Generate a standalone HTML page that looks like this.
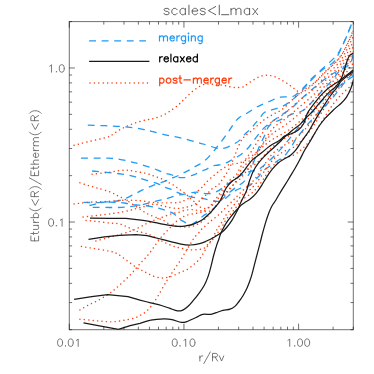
<!DOCTYPE html>
<html><head><meta charset="utf-8"><title>plot</title><style>html,body{margin:0;padding:0;background:#fff;font-family:"Liberation Sans",sans-serif}svg{display:block}</style></head><body><svg width="374" height="374" viewBox="0 0 374 374">
<rect width="374" height="374" fill="#fff"/>
<defs><clipPath id="c"><rect x="69.3" y="21.6" width="284.0" height="308.1"/></clipPath></defs>
<g clip-path="url(#c)" fill="none">
<g stroke="#1f9af5" stroke-width="1.3" stroke-dasharray="6.9 5.65" stroke-linecap="butt">
<path d="M87.8 125.2C90.6 125.3 99.6 125.5 104.5 125.7C109.4 125.9 113.0 126.0 117.3 126.3C121.6 126.6 125.9 126.9 130.2 127.4C134.5 127.9 139.2 128.6 143.0 129.3C146.8 130.0 148.7 130.7 152.8 131.7C156.9 132.7 162.8 134.2 167.8 135.3C172.8 136.4 177.8 137.3 182.8 138.5C187.8 139.7 193.7 141.3 197.8 142.4C201.9 143.5 204.4 144.4 207.5 145.3C210.6 146.2 213.7 147.5 216.2 148.0C218.7 148.5 220.6 148.6 222.6 148.4C224.6 148.2 226.3 147.6 228.3 146.8C230.3 146.0 232.8 144.7 234.7 143.6C236.6 142.5 237.8 142.0 239.5 140.4C241.2 138.8 243.3 135.9 245.1 134.0C246.9 132.1 248.8 130.7 250.5 129.0C252.2 127.3 253.5 125.5 255.0 123.7C256.5 121.9 258.1 120.0 259.7 118.1C261.2 116.2 262.4 113.8 264.3 112.5C266.2 111.2 268.0 111.3 271.2 110.2C274.4 109.1 279.9 107.6 283.4 105.9C286.9 104.2 289.2 102.2 292.0 100.0C294.8 97.8 297.1 96.0 300.0 93.0C302.9 90.0 305.9 85.7 309.4 82.0C312.9 78.3 317.6 73.7 320.9 70.9C324.2 68.2 327.1 67.2 329.4 65.5C331.7 63.8 333.2 62.6 334.7 60.8C336.2 59.0 337.1 56.9 338.3 54.5C339.5 52.1 340.8 49.2 342.1 46.4C343.4 43.6 344.9 40.4 346.1 37.6C347.3 34.8 348.4 32.1 349.4 29.6C350.4 27.2 351.5 24.5 352.1 22.9C352.7 21.3 353.0 20.6 353.2 20.2" stroke-dashoffset="0"/>
<path d="M81.0 158.2C83.3 158.2 90.4 158.2 95.0 158.2C99.6 158.2 104.7 158.0 108.8 158.2C112.9 158.4 115.9 158.7 119.5 159.3C123.1 159.9 126.8 160.8 130.2 161.6C133.6 162.4 136.6 163.2 140.0 164.2C143.4 165.2 147.1 166.2 150.7 167.4C154.3 168.7 158.8 170.7 161.4 171.7C164.0 172.7 164.2 172.8 166.0 173.4C167.8 174.0 170.1 174.4 172.0 175.0C173.9 175.6 175.4 176.7 177.4 177.1C179.4 177.5 181.6 177.9 184.0 177.6C186.4 177.3 190.0 176.0 192.0 175.4C194.0 174.8 194.2 174.8 196.0 174.0C197.8 173.2 201.0 171.5 202.8 170.7C204.6 169.9 205.4 169.9 206.8 169.1C208.2 168.3 209.4 166.8 211.4 166.1C213.4 165.4 216.2 165.5 218.6 165.0C221.0 164.5 223.9 163.7 225.9 162.9C227.9 162.2 228.8 161.5 230.7 160.5C232.5 159.5 234.9 158.2 237.0 157.0C239.1 155.8 241.0 154.7 243.0 153.0C245.0 151.3 247.0 149.3 249.0 147.0C251.0 144.7 252.8 141.8 255.0 139.0C257.2 136.2 259.5 132.7 262.0 130.0C264.5 127.3 267.0 125.3 270.0 123.0C273.0 120.7 276.4 118.5 280.0 116.0C283.6 113.5 288.5 110.7 291.8 108.0C295.1 105.3 297.0 102.8 300.0 100.0C303.0 97.2 306.7 93.8 310.0 91.0C313.3 88.2 316.6 85.7 320.0 83.0C323.4 80.3 327.3 77.2 330.6 75.0C333.9 72.8 337.3 71.4 340.0 70.0C342.7 68.6 345.3 67.5 347.0 66.5C348.7 65.5 349.2 65.4 350.1 64.1C351.0 62.8 351.5 61.1 352.1 58.8C352.7 56.5 353.3 51.5 353.5 50.1" stroke-dashoffset="0"/>
<path d="M92.1 171.0C94.9 171.3 103.9 172.1 108.8 172.6C113.7 173.1 118.2 173.6 121.6 174.1C125.0 174.6 127.0 174.9 129.3 175.4C131.7 175.9 133.0 176.2 135.7 176.9C138.4 177.6 141.6 178.7 145.3 179.8C149.0 181.0 154.8 182.5 158.1 183.8C161.4 185.1 163.2 186.5 165.3 187.4C167.4 188.3 168.8 188.3 170.7 189.1C172.6 189.9 174.9 191.3 176.7 192.1C178.5 192.9 179.5 193.4 181.4 194.1C183.3 194.8 186.1 195.5 188.1 196.1C190.1 196.7 191.2 197.1 193.4 197.4C195.6 197.7 199.2 197.8 201.4 198.1C203.6 198.4 204.8 199.0 206.6 199.4C208.4 199.8 210.2 200.4 212.2 200.7C214.2 201.0 216.5 201.8 218.8 201.3C221.1 200.9 223.6 199.6 226.0 198.0C228.4 196.4 230.5 193.7 233.0 192.0C235.5 190.3 238.2 189.1 241.0 188.0C243.8 186.9 247.9 186.4 249.9 185.4C251.9 184.4 251.6 183.6 253.1 182.1C254.6 180.6 257.2 178.2 258.7 176.5C260.2 174.8 260.1 173.4 262.0 171.7C263.9 169.9 267.3 167.9 270.0 166.0C272.7 164.1 275.5 162.2 278.0 160.5C280.5 158.8 282.8 157.6 284.9 155.5C287.0 153.4 288.6 150.8 290.5 148.0C292.4 145.2 294.5 141.0 296.1 138.7C297.7 136.4 297.9 136.4 299.9 134.0C301.9 131.6 305.0 127.5 308.0 124.0C311.0 120.5 314.7 116.5 318.0 113.0C321.3 109.5 324.9 106.4 328.0 103.0C331.1 99.6 334.0 96.1 336.8 92.6C339.6 89.1 342.2 85.4 345.0 82.0C347.8 78.6 352.1 73.7 353.5 72.0" stroke-dashoffset="0"/>
<path d="M89.4 205.5C90.4 205.3 93.3 204.6 95.4 204.1C97.5 203.6 99.6 202.9 102.0 202.5C104.4 202.1 107.1 201.9 110.0 201.6C112.9 201.3 116.1 201.4 119.6 200.5C123.1 199.6 127.2 197.6 130.9 195.9C134.7 194.2 138.4 191.9 142.1 190.2C145.8 188.4 149.6 186.9 153.3 185.4C157.1 183.9 161.5 182.6 164.6 181.4C167.7 180.2 169.9 178.9 172.0 178.0C174.1 177.1 175.4 176.9 177.4 176.0C179.4 175.1 182.1 173.6 184.0 172.7C185.9 171.8 186.9 171.4 188.7 170.4C190.5 169.4 193.0 167.7 194.8 166.7C196.6 165.7 197.7 165.4 199.4 164.4C201.1 163.4 203.3 161.9 205.0 160.5C206.7 159.1 208.2 157.4 209.8 155.7C211.4 154.0 213.4 151.6 214.6 150.1C215.8 148.6 215.9 148.2 217.0 146.8C218.1 145.5 219.7 143.7 221.0 142.0C222.3 140.3 223.8 138.3 225.1 136.4C226.4 134.5 227.4 133.2 229.1 130.8C230.8 128.4 233.2 124.3 235.0 122.0C236.8 119.7 238.0 118.5 240.0 117.0C242.0 115.5 244.0 115.0 246.9 113.3C249.8 111.6 253.5 108.8 257.2 106.8C260.9 104.8 265.4 103.1 269.3 101.5C273.2 99.9 276.7 97.9 280.6 97.1C284.5 96.3 289.3 97.7 292.7 96.5C296.1 95.3 298.9 91.8 301.1 89.9C303.3 88.0 304.2 87.0 305.8 85.3C307.4 83.6 308.7 81.5 310.5 79.7C312.3 77.9 314.9 75.8 316.5 74.3C318.1 72.8 318.4 72.5 320.0 71.0C321.6 69.5 323.9 67.5 326.0 65.6C328.1 63.7 330.7 61.4 332.7 59.4C334.7 57.4 336.5 55.6 338.1 53.4C339.7 51.2 340.8 48.8 342.1 46.1C343.4 43.4 344.9 40.2 346.1 37.4C347.3 34.6 348.4 31.8 349.4 29.4C350.4 26.9 351.5 24.3 352.1 22.7C352.7 21.1 353.0 20.4 353.2 20.0" stroke-dashoffset="0"/>
<path d="M83.4 202.4C85.9 202.4 93.9 202.6 98.1 202.6C102.3 202.6 105.2 202.2 108.8 202.2C112.4 202.2 116.5 202.2 119.6 202.4C122.7 202.6 125.2 203.2 127.6 203.6C130.0 204.0 130.3 204.2 134.1 204.7C137.8 205.1 145.8 205.6 150.1 206.3C154.4 207.0 157.2 208.0 160.0 208.7C162.8 209.4 164.5 209.9 166.7 210.7C168.9 211.5 171.2 211.9 173.4 213.4C175.6 214.9 178.1 218.0 180.0 219.4C181.9 220.8 182.9 221.2 184.7 222.1C186.5 223.0 188.9 224.7 190.7 224.7C192.5 224.7 193.6 223.3 195.4 222.1C197.2 220.9 199.7 218.7 201.4 217.4C203.1 216.1 203.7 215.6 205.5 214.4C207.3 213.2 210.3 211.6 212.2 210.0C214.1 208.4 215.4 206.7 217.0 205.0C218.6 203.3 219.4 201.9 221.6 199.7C223.8 197.5 227.2 194.4 230.0 192.0C232.8 189.6 236.4 187.1 238.7 185.4C240.9 183.8 242.0 183.6 243.5 182.1C245.0 180.6 246.3 178.4 247.5 176.5C248.7 174.6 249.6 173.5 250.7 170.9C251.8 168.3 252.5 165.2 254.0 161.0C255.5 156.8 257.7 150.4 259.5 146.0C261.3 141.6 263.6 137.9 265.0 134.8C266.4 131.7 266.8 129.4 268.1 127.4C269.4 125.4 270.8 124.0 272.8 122.8C274.8 121.5 277.1 121.3 280.2 119.9C283.3 118.5 287.7 115.9 291.5 114.3C295.3 112.7 299.6 112.5 303.0 110.5C306.4 108.5 308.8 105.2 312.0 102.0C315.2 98.8 318.6 94.7 322.0 91.0C325.4 87.3 329.1 83.8 332.4 80.0C335.7 76.2 338.5 71.3 342.0 68.0C345.5 64.7 351.6 61.3 353.5 60.0" stroke-dashoffset="0"/>
<path d="M92.7 207.3C95.6 207.3 104.5 207.5 110.0 207.5C115.5 207.5 120.7 207.6 126.0 207.1C131.3 206.6 137.8 205.5 142.1 204.7C146.4 203.9 148.5 203.1 151.7 202.3C154.9 201.5 158.9 200.5 161.3 199.9C163.7 199.3 164.2 199.3 166.0 198.8C167.8 198.3 169.9 197.4 172.0 196.8C174.1 196.2 176.6 195.4 178.7 195.0C180.8 194.6 182.7 194.5 184.7 194.1C186.7 193.7 188.7 193.1 190.7 192.8C192.7 192.5 194.8 192.0 196.8 192.1C198.8 192.2 200.8 192.9 202.8 193.2C204.8 193.5 206.6 193.9 208.8 193.7C211.0 193.5 213.5 193.1 216.0 192.0C218.5 190.9 221.3 188.8 224.0 187.0C226.7 185.2 229.3 182.8 232.0 181.0C234.7 179.2 237.3 177.5 240.0 176.0C242.7 174.5 245.2 173.0 248.0 172.0C250.8 171.0 254.8 170.9 257.1 170.1C259.4 169.2 259.9 168.6 262.0 166.9C264.1 165.2 267.3 162.5 270.0 160.0C272.7 157.5 275.3 154.8 278.0 152.0C280.7 149.2 283.3 146.2 286.0 143.0C288.7 139.8 291.3 136.3 294.0 133.0C296.7 129.7 299.0 126.5 302.0 123.0C305.0 119.5 308.7 115.7 312.0 112.0C315.3 108.3 318.7 104.3 322.0 101.0C325.3 97.7 328.7 94.8 332.0 92.0C335.3 89.2 338.4 86.7 342.0 84.0C345.6 81.3 351.6 77.3 353.5 76.0" stroke-dashoffset="0"/>
</g>
<g stroke="#ff3d0c" stroke-width="1.45" stroke-dasharray="0.1 4.32" stroke-linecap="round">
<path d="M74.1 145.3C76.3 144.7 81.6 143.3 87.4 141.9C93.2 140.5 104.7 138.0 108.8 136.8C112.9 135.6 110.2 136.1 112.0 134.9C113.8 133.8 116.8 131.4 119.5 129.9C122.2 128.4 125.2 126.9 128.0 125.7C130.8 124.5 133.6 123.5 136.6 122.5C139.6 121.5 143.3 120.5 146.0 119.9C148.7 119.3 149.9 119.6 152.8 118.8C155.7 118.0 160.3 116.5 163.5 115.0C166.7 113.5 169.6 111.3 172.1 109.6C174.6 107.9 176.7 106.2 178.5 104.7C180.3 103.2 181.7 101.6 182.8 100.6C183.9 99.6 183.8 99.7 185.0 98.5C186.2 97.3 188.2 95.2 189.8 93.7C191.4 92.2 193.0 90.9 194.6 89.7C196.2 88.5 197.8 87.4 199.4 86.5C201.0 85.6 202.7 84.8 204.3 84.4C205.9 84.0 207.4 84.0 209.0 84.0C210.6 84.0 212.3 84.2 213.9 84.4C215.5 84.6 217.1 84.8 218.7 84.9C220.3 85.1 221.9 85.0 223.5 85.3C225.1 85.6 226.7 86.2 228.3 86.5C229.9 86.8 231.5 87.1 233.1 87.3C234.7 87.5 236.4 87.6 238.0 87.6C239.6 87.5 241.6 87.3 242.8 87.0C244.0 86.7 243.4 86.7 245.0 85.6C246.6 84.5 250.0 82.1 252.5 80.6C255.0 79.1 257.5 77.4 260.0 76.5C262.5 75.6 265.0 75.2 267.5 75.3C270.0 75.3 272.4 75.9 274.9 76.8C277.4 77.7 279.9 79.2 282.4 80.6C284.9 82.0 287.7 83.8 289.9 85.3C292.1 86.8 293.6 88.3 295.5 89.6C297.4 90.8 298.9 93.0 301.1 92.8C303.3 92.5 306.3 89.8 308.6 88.1C310.9 86.4 312.3 85.1 315.0 82.5C317.7 79.9 321.8 75.7 325.0 72.5C328.2 69.3 331.5 66.1 334.0 63.5C336.5 60.9 338.2 59.3 340.0 57.0C341.8 54.7 343.1 52.2 344.5 49.5C345.9 46.8 347.2 43.8 348.5 41.0C349.8 38.2 351.2 34.9 352.0 33.0C352.8 31.1 353.2 30.1 353.5 29.5"/>
<path d="M92.1 174.2C94.9 173.9 104.2 172.9 108.8 172.3C113.4 171.7 116.3 170.9 119.5 170.6C122.7 170.2 125.2 170.0 128.0 170.2C130.8 170.4 133.6 171.2 136.6 171.7C139.6 172.2 143.2 172.7 146.0 173.4C148.8 174.1 150.8 174.9 153.3 175.8C155.9 176.7 159.3 177.9 161.3 178.7C163.3 179.5 164.0 180.0 165.3 180.7C166.7 181.4 168.1 182.3 169.4 183.0C170.8 183.7 172.2 184.4 173.4 185.1C174.6 185.8 175.6 186.6 176.7 187.4C177.8 188.2 178.8 188.8 180.0 189.7C181.2 190.5 182.8 191.6 184.0 192.5C185.2 193.4 186.4 194.5 187.4 195.4C188.4 196.3 189.0 197.2 190.0 198.1C191.0 199.0 192.5 199.9 193.4 200.8C194.3 201.7 194.3 202.4 195.4 203.4C196.5 204.4 198.4 206.2 200.0 207.0C201.6 207.8 203.3 208.5 205.0 208.5C206.7 208.5 208.3 208.0 210.0 207.0C211.7 206.0 213.3 204.3 215.0 202.5C216.7 200.7 218.3 198.2 220.0 196.0C221.7 193.8 223.3 191.2 225.0 189.0C226.7 186.8 228.2 184.8 230.0 183.0C231.8 181.2 234.2 180.2 236.0 178.0C237.8 175.8 239.3 172.4 241.0 170.0C242.7 167.7 244.3 165.9 246.0 164.1C247.7 162.3 249.3 161.1 251.0 159.3C252.7 157.5 254.3 155.5 256.0 153.4C257.7 151.3 259.3 148.8 261.0 146.6C262.7 144.4 264.3 142.1 266.0 140.1C267.7 138.2 269.3 136.4 271.0 134.9C272.7 133.4 274.3 132.2 276.0 131.0C277.7 129.9 279.3 129.1 281.0 128.0C282.7 126.9 284.3 125.6 286.0 124.4C287.7 123.2 289.3 122.1 291.0 120.7C292.7 119.4 294.3 117.9 296.0 116.5C297.7 115.1 299.3 113.7 301.0 112.3C302.7 110.8 304.3 109.3 306.0 107.8C307.7 106.2 309.3 104.7 311.0 103.0C312.7 101.3 314.3 99.6 316.0 97.6C317.7 95.6 319.3 93.2 321.0 91.0C322.7 88.8 324.3 86.6 326.0 84.6C327.7 82.6 329.3 80.7 331.0 78.9C332.7 77.0 334.3 75.3 336.0 73.4C337.7 71.6 339.3 69.9 341.0 67.6C342.7 65.3 344.3 62.3 346.0 59.5C347.7 56.6 349.8 52.9 351.0 50.7C352.2 48.5 353.1 46.9 353.5 46.1"/>
<path d="M79.9 182.8C81.4 183.3 85.9 184.8 88.7 185.7C91.5 186.5 93.2 186.9 96.7 187.9C100.2 188.9 106.5 190.6 110.0 191.9C113.5 193.2 115.3 194.6 118.0 195.9C120.7 197.2 123.0 198.2 126.0 199.9C128.9 201.6 132.2 204.0 135.7 206.3C139.2 208.6 143.2 211.5 146.9 213.5C150.6 215.5 155.2 217.1 158.1 218.3C161.0 219.5 162.1 219.6 164.1 220.7C166.1 221.8 168.1 223.8 170.0 224.6C171.9 225.4 173.2 225.4 175.3 225.8C177.4 226.2 180.4 226.8 182.8 227.0C185.2 227.2 187.8 227.1 190.0 226.8C192.2 226.5 194.0 225.9 196.0 225.0C198.0 224.1 200.0 223.0 202.0 221.5C204.0 220.0 206.2 217.9 208.0 216.0C209.8 214.1 211.3 212.2 213.0 210.0C214.7 207.8 216.3 205.3 218.0 203.0C219.7 200.7 221.3 198.2 223.0 196.0C224.7 193.8 226.2 192.0 228.0 190.0C229.8 188.0 232.2 186.3 234.0 184.0C235.8 181.7 237.3 178.1 239.0 175.9C240.7 173.7 242.3 172.1 244.0 170.8C245.7 169.6 247.3 169.2 249.0 168.3C250.7 167.3 252.3 166.3 254.0 165.1C255.7 163.8 257.3 162.4 259.0 160.9C260.7 159.3 262.3 157.3 264.0 155.6C265.7 153.8 267.3 152.0 269.0 150.4C270.7 148.7 272.3 147.1 274.0 145.7C275.7 144.3 277.3 143.0 279.0 141.9C280.7 140.7 282.3 139.8 284.0 138.8C285.7 137.8 287.3 136.9 289.0 135.8C290.7 134.8 292.3 133.6 294.0 132.3C295.7 131.0 297.3 129.6 299.0 128.1C300.7 126.5 302.3 124.9 304.0 123.2C305.7 121.6 307.3 119.9 309.0 118.0C310.7 116.1 312.3 114.0 314.0 111.7C315.7 109.5 317.3 106.9 319.0 104.5C320.7 102.0 322.3 99.3 324.0 96.9C325.7 94.6 327.3 92.3 329.0 90.1C330.7 88.0 332.3 86.0 334.0 84.0C335.7 81.9 337.3 80.0 339.0 77.8C340.7 75.7 342.3 73.6 344.0 71.2C345.7 68.9 347.4 66.2 349.0 63.8C350.6 61.4 352.8 58.0 353.5 56.9"/>
<path d="M74.1 203.9C76.3 203.7 81.6 202.9 87.4 202.4C93.2 201.9 102.4 201.6 108.8 201.2C115.2 200.8 120.7 200.3 126.0 200.2C131.3 200.1 136.2 200.3 140.5 200.7C144.8 201.0 148.4 202.0 151.7 202.3C154.9 202.7 157.1 202.7 160.0 202.8C162.9 202.9 166.4 202.9 169.4 202.8C172.4 202.8 175.9 202.7 178.0 202.5C180.1 202.3 180.7 201.8 182.0 201.4C183.3 201.0 184.7 200.5 186.0 199.8C187.3 199.1 188.8 198.2 190.0 197.4C191.2 196.6 192.3 195.9 193.4 195.0C194.5 194.1 195.7 193.2 196.8 192.1C197.9 191.0 199.0 189.7 200.1 188.7C201.2 187.7 202.6 187.1 203.4 186.3C204.2 185.5 203.9 184.9 205.0 183.7C206.1 182.5 208.2 180.4 209.8 178.9C211.4 177.4 213.0 176.2 214.6 174.9C216.2 173.6 217.8 172.1 219.4 170.9C221.0 169.7 222.7 168.8 224.3 167.7C225.9 166.6 227.4 165.2 229.1 164.5C230.8 163.8 233.0 164.0 234.7 163.7C236.4 163.4 237.8 163.4 239.5 162.9C241.2 162.4 243.3 161.4 245.1 160.5C246.9 159.6 248.4 158.4 250.1 157.2C251.8 156.1 253.4 154.8 255.1 153.5C256.8 152.2 258.4 150.7 260.1 149.3C261.8 147.8 263.4 146.2 265.1 144.8C266.8 143.4 268.4 142.2 270.1 141.0C271.8 139.8 273.4 138.8 275.1 137.8C276.8 136.8 278.4 136.1 280.1 135.2C281.8 134.3 283.4 133.2 285.1 132.2C286.8 131.2 288.4 130.3 290.1 129.2C291.8 128.0 293.4 126.7 295.1 125.4C296.8 124.0 298.4 122.6 300.1 121.1C301.8 119.6 303.4 118.0 305.1 116.3C306.8 114.7 308.4 113.0 310.1 111.2C311.8 109.4 313.4 107.5 315.1 105.3C316.8 103.1 318.4 100.5 320.1 98.2C321.8 95.8 323.4 93.3 325.1 91.1C326.8 88.8 328.4 86.7 330.1 84.7C331.8 82.7 333.4 80.9 335.1 79.0C336.8 77.0 338.4 75.1 340.1 72.9C341.8 70.7 343.4 68.2 345.1 65.6C346.8 63.0 348.7 59.8 350.1 57.5C351.5 55.2 352.9 52.7 353.5 51.8"/>
<path d="M83.1 217.0C85.6 216.7 92.8 216.0 98.1 215.3C103.4 214.7 109.9 213.9 115.2 213.1C120.5 212.3 126.3 211.2 130.2 210.3C134.1 209.4 136.2 208.5 138.7 207.8C141.2 207.1 142.9 206.9 145.3 206.3C147.7 205.7 150.6 204.3 153.3 204.2C156.0 204.1 159.3 205.1 161.3 205.5C163.3 205.9 164.0 206.2 165.3 206.5C166.7 206.8 168.0 207.2 169.4 207.5C170.8 207.8 172.6 207.9 174.0 208.1C175.4 208.2 176.6 208.4 178.0 208.4C179.4 208.4 181.2 208.1 182.7 207.9C184.1 207.7 185.2 207.5 186.7 207.1C188.1 206.7 189.9 206.2 191.4 205.7C192.9 205.2 194.2 204.6 195.4 203.9C196.6 203.2 197.7 202.2 198.8 201.4C199.9 200.6 201.0 199.8 202.1 198.8C203.2 197.8 204.4 196.5 205.5 195.4C206.6 194.3 207.6 193.3 208.8 192.1C210.1 190.9 211.5 189.1 213.0 188.0C214.5 186.9 216.5 186.5 217.8 185.4C219.1 184.3 219.9 182.8 221.0 181.3C222.1 179.8 223.2 178.1 224.3 176.5C225.4 174.9 226.3 173.8 227.5 171.7C228.7 169.6 230.3 166.4 231.5 163.7C232.7 161.0 233.6 158.4 234.7 155.7C235.8 153.0 236.7 150.3 237.9 147.6C239.1 144.9 240.7 141.5 241.9 139.6C243.1 137.7 243.7 137.3 245.0 136.0C246.3 134.7 248.3 133.4 250.0 132.0C251.7 130.6 253.3 129.2 255.0 127.7C256.7 126.3 258.3 124.7 260.0 123.2C261.7 121.8 263.3 120.3 265.0 119.1C266.7 117.9 268.3 117.1 270.0 116.1C271.7 115.2 273.3 114.2 275.0 113.3C276.7 112.5 278.3 111.9 280.0 110.8C281.7 109.8 283.3 108.5 285.0 107.0C286.7 105.5 288.3 103.7 290.0 102.0C291.7 100.4 293.3 98.7 295.0 97.2C296.7 95.7 298.3 94.3 300.0 93.0C301.7 91.6 303.3 90.5 305.0 89.2C306.7 88.0 308.3 86.9 310.0 85.7C311.7 84.6 313.3 83.7 315.0 82.3C316.7 80.8 318.3 78.8 320.0 77.0C321.7 75.3 323.3 73.3 325.0 71.7C326.7 70.1 328.3 68.8 330.0 67.4C331.7 65.9 333.3 64.7 335.0 63.0C336.7 61.3 338.3 59.7 340.0 57.4C341.7 55.0 343.3 52.2 345.0 49.1C346.7 45.9 348.6 41.7 350.0 38.7C351.4 35.7 352.9 32.2 353.5 30.9"/>
<path d="M86.0 220.4C87.8 220.6 92.7 221.0 96.7 221.4C100.7 221.8 106.2 222.7 110.0 223.1C113.8 223.5 116.7 223.2 119.6 223.9C122.5 224.6 124.9 225.9 127.6 227.1C130.3 228.3 132.9 229.9 136.0 231.0C139.1 232.1 142.6 232.2 146.0 233.4C149.4 234.6 153.6 236.6 156.6 238.1C159.6 239.6 161.4 240.9 164.1 242.2C166.8 243.5 169.7 244.9 172.5 245.9C175.3 246.9 177.9 247.5 180.9 248.2C183.9 248.8 187.5 249.6 190.3 249.8C193.1 250.0 195.6 249.8 197.8 249.6C200.1 249.4 202.3 249.1 203.8 248.4C205.3 247.7 205.7 246.5 206.6 245.6C207.5 244.7 208.6 243.7 209.4 242.8C210.2 241.9 210.2 241.9 211.3 240.0C212.4 238.1 214.8 233.6 215.9 231.6C217.0 229.6 217.0 229.1 217.8 227.8C218.6 226.6 219.7 225.5 220.6 224.1C221.5 222.7 222.5 221.0 223.4 219.4C224.3 217.8 225.1 216.3 226.2 214.7C227.3 213.1 228.8 211.6 230.0 210.0C231.2 208.4 232.4 207.0 233.7 205.4C234.9 203.8 236.4 202.1 237.5 200.7C238.6 199.3 239.0 198.2 240.3 196.9C241.6 195.6 243.6 193.9 245.3 192.7C247.0 191.4 248.6 190.8 250.3 189.4C252.0 188.0 253.6 186.3 255.3 184.3C257.0 182.3 258.6 180.0 260.3 177.5C262.0 175.1 263.6 172.3 265.3 169.8C267.0 167.3 268.6 164.8 270.3 162.8C272.0 160.7 273.6 159.0 275.3 157.4C277.0 155.9 278.6 154.7 280.3 153.6C282.0 152.5 283.6 151.5 285.3 150.8C287.0 150.0 288.6 149.9 290.3 149.1C292.0 148.3 293.6 147.2 295.3 146.0C297.0 144.8 298.6 143.4 300.3 141.8C302.0 140.2 303.6 138.4 305.3 136.5C307.0 134.6 308.6 132.7 310.3 130.4C312.0 128.1 313.6 125.6 315.3 123.0C317.0 120.3 318.6 117.5 320.3 114.7C322.0 112.0 323.6 109.2 325.3 106.5C327.0 103.9 328.6 101.3 330.3 98.9C332.0 96.6 333.6 94.5 335.3 92.4C337.0 90.3 338.6 88.3 340.3 86.3C342.0 84.2 343.6 82.1 345.3 80.1C347.0 78.1 348.9 75.8 350.3 74.2C351.7 72.6 353.0 71.1 353.5 70.4"/>
<path d="M95.9 241.0C98.1 240.4 104.5 238.7 108.8 237.5C113.1 236.3 117.7 235.2 121.6 234.0C125.5 232.8 129.1 231.8 132.3 230.6C135.5 229.3 138.6 227.6 140.9 226.5C143.2 225.4 144.5 224.5 146.0 223.8C147.5 223.1 148.3 223.1 150.1 222.3C151.8 221.5 154.4 220.0 156.5 219.1C158.6 218.2 160.7 217.8 162.9 217.0C165.2 216.2 168.0 215.0 170.0 214.3C172.0 213.7 173.2 213.4 174.7 213.1C176.1 212.8 177.4 212.7 178.7 212.3C180.0 212.0 181.4 211.4 182.7 211.0C184.0 210.6 185.2 210.2 186.7 210.0C188.1 209.8 189.9 209.6 191.4 209.6C192.9 209.6 194.0 209.8 195.4 210.0C196.8 210.2 198.5 210.4 200.1 210.7C201.7 210.9 203.3 211.4 205.0 211.5C206.7 211.6 208.3 211.8 210.0 211.0C211.7 210.2 213.3 208.7 215.0 207.0C216.7 205.3 218.3 203.0 220.0 201.0C221.7 199.0 223.3 197.0 225.0 195.0C226.7 193.0 228.3 191.0 230.0 189.0C231.7 187.0 233.3 184.7 235.0 183.0C236.7 181.3 238.3 180.7 240.0 179.0C241.7 177.3 243.3 174.9 245.0 172.9C246.7 170.9 248.3 169.3 250.0 166.9C251.7 164.5 253.3 161.6 255.0 158.6C256.7 155.7 258.3 152.3 260.0 149.1C261.7 145.9 263.3 142.5 265.0 139.6C266.7 136.8 268.3 134.2 270.0 132.0C271.7 129.8 273.3 127.9 275.0 126.3C276.7 124.8 278.3 123.9 280.0 122.7C281.7 121.5 283.3 120.4 285.0 119.1C286.7 117.9 288.3 116.5 290.0 115.1C291.7 113.7 293.3 112.2 295.0 110.8C296.7 109.3 298.3 107.9 300.0 106.5C301.7 105.1 303.3 103.7 305.0 102.3C306.7 100.9 308.3 99.5 310.0 98.0C311.7 96.6 313.3 95.2 315.0 93.4C316.7 91.6 318.3 89.3 320.0 87.3C321.7 85.3 323.3 83.1 325.0 81.1C326.7 79.2 328.3 77.6 330.0 75.8C331.7 74.1 333.3 72.6 335.0 70.8C336.7 69.0 338.3 67.2 340.0 65.0C341.7 62.7 343.3 60.0 345.0 57.2C346.7 54.3 348.6 50.6 350.0 47.9C351.4 45.2 352.9 42.2 353.5 41.1"/>
<path d="M81.4 246.4C83.5 246.8 89.2 247.7 93.8 248.5C98.4 249.3 105.0 250.3 108.8 251.1C112.5 251.9 113.8 252.0 116.3 253.2C118.8 254.4 121.1 256.3 123.8 258.2C126.5 260.1 129.7 262.8 132.3 264.6C135.0 266.5 137.4 268.0 139.7 269.3C142.0 270.6 143.8 271.4 146.0 272.5C148.2 273.6 150.4 275.0 152.8 275.9C155.2 276.8 158.0 277.6 160.3 277.8C162.7 278.1 164.7 277.8 166.9 277.4C169.1 277.0 171.1 276.4 173.4 275.5C175.7 274.6 178.6 273.1 180.9 272.1C183.2 271.1 185.5 270.5 187.5 269.3C189.5 268.1 191.4 266.4 193.1 265.0C194.8 263.6 196.4 262.4 197.8 260.9C199.2 259.4 200.4 257.8 201.5 256.2C202.6 254.6 203.1 253.5 204.3 251.6C205.5 249.7 207.0 246.8 208.5 244.7C210.0 242.6 211.7 240.9 213.1 239.0C214.5 237.1 215.7 235.0 216.9 233.4C218.2 231.8 219.5 231.2 220.6 229.7C221.7 228.1 222.5 225.8 223.4 224.1C224.3 222.4 225.1 221.0 226.2 219.4C227.3 217.8 228.6 216.4 230.0 214.7C231.4 213.0 233.3 210.8 234.7 209.1C236.1 207.4 237.2 206.0 238.4 204.4C239.6 202.8 240.7 201.0 242.1 199.7C243.5 198.4 245.4 197.5 247.1 196.3C248.8 195.2 250.4 194.2 252.1 192.8C253.8 191.3 255.4 189.7 257.1 187.8C258.8 185.8 260.4 183.5 262.1 181.1C263.8 178.7 265.4 175.8 267.1 173.4C268.8 171.0 270.4 168.5 272.1 166.7C273.8 164.8 275.4 163.5 277.1 162.2C278.8 161.0 280.4 159.9 282.1 159.0C283.8 158.2 285.4 157.7 287.1 157.1C288.8 156.6 290.4 156.5 292.1 155.8C293.8 155.1 295.4 154.1 297.1 153.0C298.8 151.8 300.4 150.4 302.1 148.9C303.8 147.4 305.4 145.8 307.1 143.8C308.8 141.9 310.4 139.7 312.1 137.3C313.8 134.9 315.4 132.1 317.1 129.4C318.8 126.8 320.4 123.9 322.1 121.2C323.8 118.4 325.4 115.7 327.1 113.1C328.8 110.5 330.4 107.9 332.1 105.6C333.8 103.3 335.4 101.1 337.1 99.2C338.8 97.2 340.4 95.6 342.1 93.9C343.8 92.2 345.4 90.6 347.1 89.1C348.8 87.7 351.0 86.0 352.1 85.1C353.2 84.3 353.3 84.2 353.5 84.0"/>
<path d="M79.9 310.0C81.3 309.2 85.5 306.6 88.5 305.0C91.5 303.4 94.9 302.1 98.1 300.4C101.3 298.7 104.8 296.5 107.7 294.6C110.6 292.7 112.7 291.1 115.2 289.0C117.7 286.9 120.2 284.5 122.7 282.2C125.2 279.9 128.0 277.3 130.2 275.0C132.4 272.7 134.2 270.4 136.0 268.4C137.8 266.4 139.1 264.5 140.7 262.8C142.3 261.1 143.8 259.8 145.4 258.1C147.0 256.4 148.4 254.5 150.0 252.5C151.6 250.5 153.1 248.1 154.7 245.9C156.3 243.7 157.8 241.4 159.4 239.4C161.0 237.4 162.5 235.5 164.1 233.8C165.7 232.1 167.4 230.6 168.8 229.1C170.2 227.6 171.3 226.2 172.5 225.0C173.7 223.8 174.8 222.8 176.2 221.6C177.6 220.4 179.4 219.0 181.0 218.0C182.6 217.0 184.2 216.2 186.0 215.5C187.8 214.8 190.0 214.4 192.0 214.0C194.0 213.6 196.0 213.5 198.0 213.0C200.0 212.5 202.0 212.2 204.0 211.0C206.0 209.8 208.2 207.8 210.0 206.0C211.8 204.2 213.3 202.2 215.0 200.0C216.7 197.8 218.3 195.3 220.0 193.0C221.7 190.7 223.3 188.2 225.0 186.0C226.7 183.8 228.2 181.8 230.0 180.0C231.8 178.2 234.2 177.3 236.0 175.0C237.8 172.7 239.3 168.9 241.0 166.2C242.7 163.5 244.3 161.1 246.0 158.7C247.7 156.4 249.3 154.4 251.0 151.9C252.7 149.5 254.3 146.7 256.0 143.9C257.7 141.2 259.3 138.1 261.0 135.4C262.7 132.8 264.3 130.2 266.0 128.0C267.7 125.9 269.3 124.1 271.0 122.6C272.7 121.1 274.3 120.0 276.0 118.9C277.7 117.8 279.3 117.4 281.0 116.2C282.7 115.1 284.3 113.6 286.0 112.2C287.7 110.8 289.3 109.3 291.0 107.8C292.7 106.3 294.3 104.7 296.0 103.2C297.7 101.8 299.3 100.5 301.0 99.1C302.7 97.8 304.3 96.5 306.0 95.2C307.7 93.9 309.3 92.6 311.0 91.3C312.7 89.9 314.3 88.6 316.0 86.9C317.7 85.2 319.3 83.0 321.0 81.1C322.7 79.3 324.3 77.3 326.0 75.6C327.7 73.8 329.3 72.3 331.0 70.7C332.7 69.1 334.3 67.6 336.0 65.8C337.7 64.0 339.3 62.5 341.0 60.1C342.7 57.6 344.3 54.3 346.0 51.2C347.7 48.0 349.8 43.7 351.0 41.2C352.2 38.7 353.1 36.8 353.5 36.0"/>
<path d="M79.9 319.2C81.9 319.4 88.0 319.9 91.7 320.3C95.5 320.7 98.8 321.1 102.4 321.3C106.0 321.6 109.5 322.0 113.1 321.8C116.7 321.6 120.2 320.9 123.8 320.3C127.3 319.7 131.6 319.0 134.4 318.1C137.2 317.2 139.0 316.0 140.9 314.9C142.8 313.8 144.2 313.3 146.0 311.7C147.8 310.1 150.0 307.6 152.0 305.0C154.0 302.4 156.0 299.3 158.0 296.0C160.0 292.7 162.6 287.8 164.1 285.2C165.6 282.6 165.8 282.3 166.9 280.6C168.0 278.9 169.3 276.9 170.6 275.0C171.8 273.1 173.2 271.2 174.4 269.3C175.7 267.4 176.8 265.6 178.1 263.7C179.3 261.8 180.8 260.0 181.9 258.1C183.1 256.2 184.1 254.1 185.0 252.5C185.9 250.9 186.6 250.1 187.5 248.7C188.4 247.3 189.4 245.6 190.3 244.1C191.2 242.6 192.2 240.8 193.1 239.4C194.0 238.0 194.8 236.9 195.9 235.7C197.0 234.4 198.5 233.2 199.6 231.9C200.7 230.7 201.3 229.3 202.4 228.2C203.5 227.1 204.7 226.6 206.0 225.4C207.3 224.2 209.0 222.5 210.3 221.3C211.7 220.2 212.7 219.6 214.1 218.5C215.5 217.4 217.2 216.1 218.8 214.7C220.4 213.3 221.9 211.6 223.4 210.0C224.9 208.4 226.5 207.0 228.1 205.4C229.7 203.8 231.4 202.1 232.8 200.7C234.2 199.3 235.1 198.4 236.5 196.9C237.9 195.4 239.8 193.3 241.5 191.7C243.2 190.0 244.8 188.6 246.5 187.1C248.2 185.6 249.8 184.4 251.5 182.7C253.2 181.0 254.8 179.0 256.5 176.8C258.2 174.6 259.8 171.9 261.5 169.4C263.2 166.8 264.8 163.9 266.5 161.5C268.2 159.0 269.8 156.7 271.5 154.9C273.2 153.0 274.8 151.6 276.5 150.3C278.2 149.0 279.8 148.0 281.5 147.0C283.2 145.9 284.8 144.9 286.5 144.0C288.2 143.1 289.8 142.5 291.5 141.5C293.2 140.4 294.8 139.1 296.5 137.7C298.2 136.3 299.8 134.7 301.5 133.1C303.2 131.4 304.8 129.6 306.5 127.7C308.2 125.7 309.8 123.7 311.5 121.4C313.2 119.2 314.8 116.7 316.5 114.1C318.2 111.6 319.8 108.8 321.5 106.2C323.2 103.6 324.8 100.9 326.5 98.5C328.2 96.0 329.8 93.6 331.5 91.4C333.2 89.2 334.8 87.2 336.5 85.1C338.2 83.1 339.8 81.3 341.5 79.1C343.2 76.9 344.8 74.5 346.5 72.2C348.2 69.8 350.3 66.9 351.5 65.3C352.7 63.7 353.2 63.0 353.5 62.5"/>
</g>
<g stroke="#1a1a1a" stroke-width="1.25">
<path d="M90.0 218.2C90.0 218.2 110.0 218.3 110.0 218.3C110.0 218.3 126.0 218.3 126.0 218.3C126.0 218.3 138.9 219.9 138.9 219.9C138.9 219.9 147.5 221.1 151.7 221.8C155.9 222.6 159.8 223.7 164.1 224.4C168.3 225.2 173.5 226.1 177.2 226.3C180.8 226.5 183.3 226.2 186.0 225.8C188.7 225.4 190.7 225.2 193.5 224.1C196.3 223.0 200.0 221.3 202.8 219.4C205.6 217.5 208.1 215.0 210.3 212.8C212.5 210.6 214.2 208.4 215.9 206.3C217.6 204.2 218.9 203.1 220.6 200.0C222.3 196.9 224.3 191.1 226.2 188.0C228.1 184.9 229.9 183.2 231.8 181.5C233.7 179.8 235.5 179.3 237.4 177.7C239.3 176.1 241.3 174.1 243.0 172.1C244.7 170.1 246.1 167.6 247.7 165.6C249.3 163.6 250.2 161.9 252.4 159.9C254.6 157.9 257.7 155.9 260.6 153.6C263.5 151.3 266.8 148.3 269.9 146.1C273.0 143.9 276.8 142.2 279.3 140.5C281.8 138.8 283.0 137.0 284.9 135.9C286.8 134.8 288.3 134.9 290.5 134.0C292.7 133.1 295.8 131.9 298.0 130.2C300.2 128.5 302.0 126.6 303.6 123.7C305.2 120.8 305.5 116.8 307.6 112.9C309.8 109.1 313.9 104.0 316.5 100.6C319.1 97.2 321.1 94.9 323.5 92.6C325.9 90.2 328.2 88.2 330.6 86.5C333.0 84.8 335.8 83.4 337.6 82.1C339.4 80.8 340.0 80.7 341.2 78.5C342.4 76.3 343.7 71.9 344.7 68.8C345.7 65.7 346.5 62.3 347.4 60.0C348.3 57.7 349.0 56.2 350.0 55.1C351.0 54.0 352.9 53.6 353.5 53.3" stroke-linejoin="round"/>
<path d="M88.5 239.3C88.5 239.3 104.5 236.8 104.5 236.8C104.5 236.8 119.5 235.3 119.5 235.3C119.5 235.3 136.0 234.7 136.0 234.7C136.0 234.7 147.2 235.7 147.2 235.7C147.2 235.7 154.8 237.6 158.5 238.5C162.2 239.4 166.0 240.4 169.7 241.3C173.4 242.2 177.5 243.5 180.9 244.1C184.3 244.7 187.2 245.1 190.3 245.0C193.4 244.9 197.0 244.3 199.6 243.7C202.2 243.1 203.6 242.4 206.0 241.3C208.4 240.2 211.5 238.7 214.1 237.2C216.7 235.7 219.4 234.2 221.6 232.5C223.8 230.8 225.3 229.0 227.0 227.0C228.7 225.0 230.4 222.6 231.9 220.3C233.4 218.0 234.9 215.0 236.0 213.0C237.1 211.0 237.6 210.0 238.4 208.2C239.2 206.4 240.1 204.0 241.0 202.0C241.9 200.0 243.0 198.0 244.0 196.0C245.0 194.0 245.9 192.5 246.8 189.9C247.7 187.3 248.5 183.6 249.6 180.5C250.7 177.4 251.9 174.0 253.3 171.2C254.7 168.4 256.3 166.0 258.0 163.7C259.7 161.3 261.9 158.9 263.6 157.1C265.3 155.3 265.8 154.8 268.1 152.7C270.4 150.6 274.6 147.0 277.4 144.3C280.2 141.7 282.4 139.2 284.9 136.8C287.4 134.5 289.9 132.2 292.4 130.2C294.9 128.2 297.7 126.6 299.9 124.6C302.1 122.6 303.6 120.0 305.5 118.1C307.4 116.1 308.8 115.5 311.2 112.9C313.6 110.3 317.1 105.8 320.0 102.4C322.9 99.0 326.2 95.2 328.8 92.6C331.4 89.9 333.8 88.7 335.9 86.5C338.0 84.3 339.1 81.5 341.2 79.4C343.2 77.3 346.1 75.7 348.2 74.1C350.2 72.5 352.6 70.4 353.5 69.7" stroke-linejoin="round"/>
<path d="M74.1 299.3C74.1 299.3 91.7 296.7 91.7 296.7C91.7 296.7 107.7 294.6 107.7 294.6C107.7 294.6 128.0 296.7 128.0 296.7C128.0 296.7 140.0 300.2 140.0 300.2C140.0 300.2 147.1 301.9 150.7 302.8C154.3 303.7 158.3 304.6 161.4 305.5C164.5 306.4 166.7 307.3 169.4 308.2C172.1 309.1 175.2 310.6 177.4 310.9C179.6 311.2 181.0 310.9 182.8 310.1C184.6 309.3 186.3 308.0 188.1 306.3C189.9 304.6 191.7 302.3 193.5 300.2C195.3 298.1 197.0 295.9 198.8 293.5C200.6 291.1 202.6 288.4 204.2 285.5C205.8 282.6 207.1 279.2 208.2 276.1C209.3 273.0 210.0 270.1 210.9 266.7C211.8 263.3 212.6 259.3 213.5 256.0C214.4 252.7 215.3 249.4 216.2 246.7C217.0 244.0 217.9 241.9 218.6 240.0C219.3 238.1 219.5 236.7 220.2 235.0C220.8 233.3 221.5 231.7 222.5 229.7C223.5 227.7 224.8 225.3 226.2 223.1C227.6 220.9 229.3 218.6 230.9 216.6C232.5 214.6 234.3 212.4 235.6 211.0C236.8 209.6 237.4 209.2 238.4 208.2C239.4 207.2 240.3 205.9 241.6 204.8C242.8 203.7 244.6 202.7 245.9 201.8C247.2 200.9 247.9 200.9 249.6 199.5C251.3 198.1 254.1 195.7 256.1 193.3C258.1 190.9 260.0 188.0 261.7 185.3C263.4 182.6 264.8 180.0 266.5 177.3C268.2 174.6 270.1 171.7 272.1 169.3C274.1 166.9 276.4 164.6 278.5 162.8C280.6 161.0 282.9 159.9 284.9 158.6C286.9 157.3 288.8 156.6 290.6 155.2C292.4 153.8 294.0 152.3 295.7 150.2C297.4 148.1 299.2 144.9 300.8 142.5C302.4 140.1 304.0 138.1 305.5 135.9C307.0 133.7 308.5 131.8 310.0 129.3C311.5 126.8 312.4 124.7 314.7 120.9C316.9 117.1 320.9 110.6 323.5 106.4C326.1 102.2 328.4 98.7 330.6 95.5C332.8 92.3 335.0 89.9 336.8 87.5C338.6 85.1 339.6 83.0 341.2 81.2C342.8 79.4 344.4 78.2 346.5 76.5C348.6 74.8 352.3 72.2 353.5 71.3" stroke-linejoin="round"/>
<path d="M83.5 322.8C83.5 322.8 98.1 325.6 98.1 325.6C98.1 325.6 118.4 329.3 118.4 329.3C118.4 329.3 130.2 325.6 130.2 325.6C130.2 325.6 140.0 323.4 140.0 323.4C140.0 323.4 146.7 320.9 150.7 320.2C154.7 319.4 160.5 319.0 164.1 318.9C167.7 318.8 169.2 319.1 172.1 319.7C175.0 320.3 178.9 322.1 181.4 322.4C183.9 322.7 184.4 322.4 186.8 321.6C189.2 320.8 193.4 318.7 196.1 317.5C198.8 316.3 200.3 314.8 202.8 314.3C205.3 313.8 208.7 314.6 210.9 314.3C213.1 314.0 214.2 313.4 216.2 312.7C218.2 312.0 220.6 311.0 222.9 310.4C225.2 309.8 228.1 309.9 230.1 309.2C232.1 308.5 233.7 307.4 235.2 306.1C236.7 304.8 237.7 303.2 239.0 301.5C240.3 299.8 241.6 298.0 242.8 296.0C244.0 294.0 245.1 292.2 246.3 289.6C247.5 287.1 248.9 283.4 249.9 280.7C250.9 277.9 251.5 276.1 252.3 273.1C253.1 270.1 254.0 266.3 254.9 262.9C255.8 259.5 256.6 256.2 257.5 252.8C258.4 249.4 259.4 245.6 260.2 242.6C261.0 239.6 261.3 238.1 262.1 235.0C262.9 231.9 264.1 227.6 265.2 223.8C266.3 220.0 267.8 215.5 269.0 212.4C270.2 209.3 271.3 207.1 272.5 205.0C273.7 202.9 274.6 202.2 276.1 199.7C277.6 197.2 279.7 193.4 281.7 190.1C283.7 186.8 286.1 183.2 288.2 179.7C290.3 176.2 292.6 172.4 294.5 169.2C296.4 166.0 297.8 163.5 299.5 160.3C301.2 157.1 302.9 153.3 304.6 150.2C306.4 147.1 307.6 145.5 310.0 141.5C312.4 137.5 316.6 129.9 319.1 126.0C321.7 122.1 322.8 121.0 325.3 118.2C327.8 115.4 331.5 111.9 334.1 109.4C336.8 106.9 339.1 105.2 341.2 103.2C343.3 101.2 344.9 99.6 346.5 97.1C348.1 94.6 349.7 91.3 350.9 88.2C352.1 85.1 353.4 80.1 353.9 78.5" stroke-linejoin="round"/>
</g>
</g>
<path d="M89.1 40.9H146" stroke="#1f9af5" stroke-width="1.3" stroke-dasharray="6.9 5.65" fill="none"/>
<path d="M89.1 61.45H149.4" stroke="#1a1a1a" stroke-width="1.25" fill="none"/>
<path d="M89.95 83H148.5" stroke="#ff3d0c" stroke-width="1.45" stroke-dasharray="0.1 4.32" stroke-linecap="round" fill="none"/>
<path transform="translate(159.50 41.00) scale(0.3620 0.3620) translate(-4.00 0)" d="M4 -14L4 -10L7 -13L9 -14L12 -14L14 -13L15 -10L18 -13L20 -14L23 -14L25 -13L26 -10L26 0M15 -10L15 0M4 -10L4 0M45 -9L45 -8L33 -8L34 -11L36 -13L38 -14L41 -14L43 -13L44 -12L45 -10L45 -9M33 -8L33 -6L34 -3L36 -1L38 0L41 0L43 -1L45 -3M52 -14L52 -8L53 -11L55 -13L57 -14L60 -14M52 -8L52 0M76 -14L76 -11L74 -13L72 -14L69 -14L67 -13L65 -11L64 -8L64 -6L65 -3L67 -1L69 0L72 0L74 -1L76 -3L76 2L75 5L74 6L72 7L69 7L67 6M76 -11L76 -3M84 -14L84 0M84 -22L83 -21L84 -20L85 -21L84 -22M92 -14L92 -10L95 -13L97 -14L100 -14L102 -13L103 -10L103 0M92 -10L92 0M122 -14L122 -11L120 -13L118 -14L115 -14L113 -13L111 -11L110 -8L110 -6L111 -3L113 -1L115 0L118 0L120 -1L122 -3L122 2L121 5L120 6L118 7L115 7L113 6M122 -11L122 -3" fill="none" stroke="#1f9af5" stroke-width="3.315" stroke-linecap="round" stroke-linejoin="round" stroke-opacity="1"/>
<path transform="translate(159.70 61.80) scale(0.3620 0.3620) translate(-4.00 0)" d="M4 -14L4 -8L5 -11L7 -13L9 -14L12 -14M4 -8L4 0M28 -9L28 -8L16 -8L17 -11L19 -13L21 -14L24 -14L26 -13L27 -12L28 -10L28 -9M16 -8L16 -6L17 -3L19 -1L21 0L24 0L26 -1L28 -3M35 -21L35 0M54 -14L54 -11L52 -13L50 -14L47 -14L45 -13L43 -11L42 -8L42 -6L43 -3L45 -1L47 0L50 0L52 -1L54 -3L54 0M54 -11L54 -3M61 0L65 -5L68 -9L72 -14M61 -14L65 -9L68 -5L72 0M90 -9L90 -8L78 -8L79 -11L81 -13L83 -14L86 -14L88 -13L89 -12L90 -10L90 -9M78 -8L78 -6L79 -3L81 -1L83 0L86 0L88 -1L90 -3M108 -21L108 -11L106 -13L104 -14L101 -14L99 -13L97 -11L96 -8L96 -6L97 -3L99 -1L101 0L104 0L106 -1L108 -3L108 0M108 -11L108 -3" fill="none" stroke="#000" stroke-width="3.315" stroke-linecap="round" stroke-linejoin="round" stroke-opacity="1"/>
<path transform="translate(159.70 83.20) scale(0.3620 0.3620) translate(-4.00 0)" d="M16 -7L16 -6L15 -3L13 -1L11 0L8 0L6 -1L4 -3L4 -11L6 -13L8 -14L11 -14L13 -13L15 -11L16 -8L16 -7M4 -3L4 7M4 -14L4 -11M35 -7L35 -6L34 -3L32 -1L30 0L27 0L25 -1L23 -3L22 -6L22 -8L23 -11L25 -13L27 -14L30 -14L32 -13L34 -11L35 -8L35 -7M52 -11L51 -13L48 -14L45 -14L42 -13L41 -11L42 -9L44 -8L49 -7L51 -6L52 -4L52 -3L51 -1L48 0L45 0L42 -1L41 -3M57 -14L60 -14L60 -4L61 -1L63 0L65 0M60 -21L60 -14L64 -14M71 -9L89 -9M97 -14L97 -10L100 -13L102 -14L105 -14L107 -13L108 -10L111 -13L113 -14L116 -14L118 -13L119 -10L119 0M108 -10L108 0M97 -10L97 0M138 -9L138 -8L126 -8L127 -11L129 -13L131 -14L134 -14L136 -13L137 -12L138 -10L138 -9M126 -8L126 -6L127 -3L129 -1L131 0L134 0L136 -1L138 -3M145 -14L145 -8L146 -11L148 -13L150 -14L153 -14M145 -8L145 0M169 -14L169 -11L167 -13L165 -14L162 -14L160 -13L158 -11L157 -8L157 -6L158 -3L160 -1L162 0L165 0L167 -1L169 -3L169 2L168 5L167 6L165 7L162 7L160 6M169 -11L169 -3M188 -9L188 -8L176 -8L177 -11L179 -13L181 -14L184 -14L186 -13L187 -12L188 -10L188 -9M176 -8L176 -6L177 -3L179 -1L181 0L184 0L186 -1L188 -3M195 -14L195 -8L196 -11L198 -13L200 -14L203 -14M195 -8L195 0" fill="none" stroke="#ff3d0c" stroke-width="3.315" stroke-linecap="round" stroke-linejoin="round" stroke-opacity="1"/>
<rect x="69.30" y="21.60" width="284.00" height="308.10" fill="none" stroke="#000" stroke-opacity="0.56" stroke-width="1"/>
<path d="M69.30 329.70v-6.10M69.30 21.60v6.10M103.81 329.70v-3.00M103.81 21.60v3.00M124.00 329.70v-3.00M124.00 21.60v3.00M138.33 329.70v-3.00M138.33 21.60v3.00M149.44 329.70v-3.00M149.44 21.60v3.00M158.51 329.70v-3.00M158.51 21.60v3.00M166.19 329.70v-3.00M166.19 21.60v3.00M172.84 329.70v-3.00M172.84 21.60v3.00M178.70 329.70v-3.00M178.70 21.60v3.00M183.95 329.70v-6.10M183.95 21.60v6.10M218.46 329.70v-3.00M218.46 21.60v3.00M238.65 329.70v-3.00M238.65 21.60v3.00M252.97 329.70v-3.00M252.97 21.60v3.00M264.09 329.70v-3.00M264.09 21.60v3.00M273.16 329.70v-3.00M273.16 21.60v3.00M280.84 329.70v-3.00M280.84 21.60v3.00M287.49 329.70v-3.00M287.49 21.60v3.00M293.35 329.70v-3.00M293.35 21.60v3.00M298.60 329.70v-6.10M298.60 21.60v6.10M333.11 329.70v-3.00M333.11 21.60v3.00M353.30 329.70v-3.00M353.30 21.60v3.00M69.30 329.70h2.80M353.30 329.70h-2.80M69.30 302.57h2.80M353.30 302.57h-2.80M69.30 283.33h2.80M353.30 283.33h-2.80M69.30 268.40h2.80M353.30 268.40h-2.80M69.30 256.20h2.80M353.30 256.20h-2.80M69.30 245.89h2.80M353.30 245.89h-2.80M69.30 236.95h2.80M353.30 236.95h-2.80M69.30 229.07h2.80M353.30 229.07h-2.80M69.30 222.02h5.60M353.30 222.02h-5.60M69.30 175.65h2.80M353.30 175.65h-2.80M69.30 148.52h2.80M353.30 148.52h-2.80M69.30 129.28h2.80M353.30 129.28h-2.80M69.30 114.35h2.80M353.30 114.35h-2.80M69.30 102.15h2.80M353.30 102.15h-2.80M69.30 91.84h2.80M353.30 91.84h-2.80M69.30 82.90h2.80M353.30 82.90h-2.80M69.30 75.02h2.80M353.30 75.02h-2.80M69.30 67.97h5.60M353.30 67.97h-5.60M69.30 21.60h2.80M353.30 21.60h-2.80" fill="none" stroke="#000" stroke-opacity="0.56" stroke-width="1"/>
<path transform="translate(68.95 346.40) scale(0.3550 0.3550) translate(-35.00 0)" d="M17 -10L17 -9L16 -4L14 -1L11 0L9 0L6 -1L4 -4L3 -9L3 -12L4 -17L6 -20L9 -21L11 -21L14 -20L16 -17L17 -12L17 -10M25 -2L24 -1L25 0L26 -1L25 -2M47 -10L47 -9L46 -4L44 -1L41 0L39 0L36 -1L34 -4L33 -9L33 -12L34 -17L36 -20L39 -21L41 -21L44 -20L46 -17L47 -12L47 -10M56 -17L58 -18L61 -21L61 0" fill="none" stroke="#555" stroke-width="2.254" stroke-linecap="round" stroke-linejoin="round" stroke-opacity="1"/>
<path transform="translate(183.60 346.40) scale(0.3550 0.3550) translate(-35.00 0)" d="M17 -10L17 -9L16 -4L14 -1L11 0L9 0L6 -1L4 -4L3 -9L3 -12L4 -17L6 -20L9 -21L11 -21L14 -20L16 -17L17 -12L17 -10M25 -2L24 -1L25 0L26 -1L25 -2M36 -17L38 -18L41 -21L41 0M67 -10L67 -9L66 -4L64 -1L61 0L59 0L56 -1L54 -4L53 -9L53 -12L54 -17L56 -20L59 -21L61 -21L64 -20L66 -17L67 -12L67 -10" fill="none" stroke="#555" stroke-width="2.254" stroke-linecap="round" stroke-linejoin="round" stroke-opacity="1"/>
<path transform="translate(298.25 346.40) scale(0.3550 0.3550) translate(-35.00 0)" d="M6 -17L8 -18L11 -21L11 0M25 -2L24 -1L25 0L26 -1L25 -2M47 -10L47 -9L46 -4L44 -1L41 0L39 0L36 -1L34 -4L33 -9L33 -12L34 -17L36 -20L39 -21L41 -21L44 -20L46 -17L47 -12L47 -10M67 -10L67 -9L66 -4L64 -1L61 0L59 0L56 -1L54 -4L53 -9L53 -12L54 -17L56 -20L59 -21L61 -21L64 -20L66 -17L67 -12L67 -10" fill="none" stroke="#555" stroke-width="2.254" stroke-linecap="round" stroke-linejoin="round" stroke-opacity="1"/>
<path transform="translate(65.30 72.17) scale(0.3550 0.3550) translate(-50.00 0)" d="M6 -17L8 -18L11 -21L11 0M25 -2L24 -1L25 0L26 -1L25 -2M47 -10L47 -9L46 -4L44 -1L41 0L39 0L36 -1L34 -4L33 -9L33 -12L34 -17L36 -20L39 -21L41 -21L44 -20L46 -17L47 -12L47 -10" fill="none" stroke="#555" stroke-width="2.254" stroke-linecap="round" stroke-linejoin="round" stroke-opacity="1"/>
<path transform="translate(65.30 226.22) scale(0.3550 0.3550) translate(-50.00 0)" d="M17 -10L17 -9L16 -4L14 -1L11 0L9 0L6 -1L4 -4L3 -9L3 -12L4 -17L6 -20L9 -21L11 -21L14 -20L16 -17L17 -12L17 -10M25 -2L24 -1L25 0L26 -1L25 -2M36 -17L38 -18L41 -21L41 0" fill="none" stroke="#555" stroke-width="2.254" stroke-linecap="round" stroke-linejoin="round" stroke-opacity="1"/>
<path transform="translate(211.80 361.00) scale(0.3620 0.3620) translate(-37.00 0)" d="M4 -14L4 -8L5 -11L7 -13L9 -14L12 -14M4 -8L4 0M15 7L19 0L20 -2L28 -16L29 -18L33 -25M39 0L39 -21L48 -21L51 -20L52 -19L53 -17L53 -15L52 -13L51 -12L48 -11L46 -11L53 0M39 -11L46 -11M58 -14L64 0L70 -14" fill="none" stroke="#555" stroke-width="2.210" stroke-linecap="round" stroke-linejoin="round" stroke-opacity="1"/>
<path transform="translate(38.60 175.80) rotate(-90) scale(0.3686 0.3686) translate(-180.50 0)" d="M17 -21L4 -21L4 0L17 0M4 -11L12 -11M21 -14L24 -14L24 -4L25 -1L27 0L29 0M24 -21L24 -14L28 -14M35 -14L35 -4L36 -1L38 0L41 0L43 -1L46 -4L46 0M46 -14L46 -4M54 -14L54 -8L55 -11L57 -13L59 -14L62 -14M54 -8L54 0M79 -7L79 -6L78 -3L76 -1L74 0L71 0L69 -1L67 -3L67 -11L69 -13L71 -14L74 -14L76 -13L78 -11L79 -8L79 -7M67 -3L67 0M67 -21L67 -11M93 -25L91 -23L89 -20L87 -16L86 -11L86 -7L87 -2L89 2L91 5L93 7M116 -18L109 -14L107 -13L100 -9L107 -5L109 -4L116 0M124 0L124 -21L133 -21L136 -20L137 -19L138 -17L138 -15L137 -13L136 -12L133 -11L131 -11L138 0M124 -11L131 -11M144 -25L146 -23L148 -20L150 -16L151 -11L151 -7L150 -2L148 2L146 5L144 7M157 7L161 0L162 -2L170 -16L171 -18L175 -25M194 -21L181 -21L181 0L194 0M181 -11L189 -11M198 -14L201 -14L201 -4L202 -1L204 0L206 0M201 -21L201 -14L205 -14M212 -21L212 -10L215 -13L217 -14L220 -14L222 -13L223 -10L223 0M212 -10L212 0M242 -9L242 -8L230 -8L231 -11L233 -13L235 -14L238 -14L240 -13L241 -12L242 -10L242 -9M230 -8L230 -6L231 -3L233 -1L235 0L238 0L240 -1L242 -3M249 -14L249 -8L250 -11L252 -13L254 -14L257 -14M249 -8L249 0M262 -14L262 -10L265 -13L267 -14L270 -14L272 -13L273 -10L276 -13L278 -14L281 -14L283 -13L284 -10L284 0M273 -10L273 0M262 -10L262 0M299 -25L297 -23L295 -20L293 -16L292 -11L292 -7L293 -2L295 2L297 5L299 7M322 -18L315 -14L313 -13L306 -9L313 -5L315 -4L322 0M330 0L330 -21L339 -21L342 -20L343 -19L344 -17L344 -15L343 -13L342 -12L339 -11L337 -11L344 0M330 -11L337 -11M350 -25L352 -23L354 -20L356 -16L357 -11L357 -7L356 -2L354 2L352 5L350 7" fill="none" stroke="#555" stroke-width="2.170" stroke-linecap="round" stroke-linejoin="round" stroke-opacity="1"/>
<path transform="translate(210.90 14.70) scale(0.4525 0.4525) translate(-106.50 0)" d="M14 -11L13 -13L10 -14L7 -14L4 -13L3 -11L4 -9L6 -8L11 -7L13 -6L14 -4L14 -3L13 -1L10 0L7 0L4 -1L3 -3M32 -11L30 -13L28 -14L25 -14L23 -13L21 -11L20 -8L20 -6L21 -3L23 -1L25 0L28 0L30 -1L32 -3M50 -14L50 -11L48 -13L46 -14L43 -14L41 -13L39 -11L38 -8L38 -6L39 -3L41 -1L43 0L46 0L48 -1L50 -3L50 0M50 -11L50 -3M58 -21L58 0M77 -9L77 -8L65 -8L66 -11L68 -13L70 -14L73 -14L75 -13L76 -12L77 -10L77 -9M65 -8L65 -6L66 -3L68 -1L70 0L73 0L75 -1L77 -3M94 -11L93 -13L90 -14L87 -14L84 -13L83 -11L84 -9L86 -8L91 -7L93 -6L94 -4L94 -3L93 -1L90 0L87 0L84 -1L83 -3M117 -18L110 -14L108 -13L101 -9L108 -5L110 -4L117 0M125 -21L125 0M130 0L146 0M151 -14L151 -10L154 -13L156 -14L159 -14L161 -13L162 -10L165 -13L167 -14L170 -14L172 -13L173 -10L173 0M162 -10L162 0M151 -10L151 0M192 -14L192 -11L190 -13L188 -14L185 -14L183 -13L181 -11L180 -8L180 -6L181 -3L183 -1L185 0L188 0L190 -1L192 -3L192 0M192 -11L192 -3M199 0L203 -5L206 -9L210 -14M199 -14L203 -9L206 -5L210 0" fill="none" stroke="#555" stroke-width="2.099" stroke-linecap="round" stroke-linejoin="round" stroke-opacity="1"/>
</svg></body></html>
